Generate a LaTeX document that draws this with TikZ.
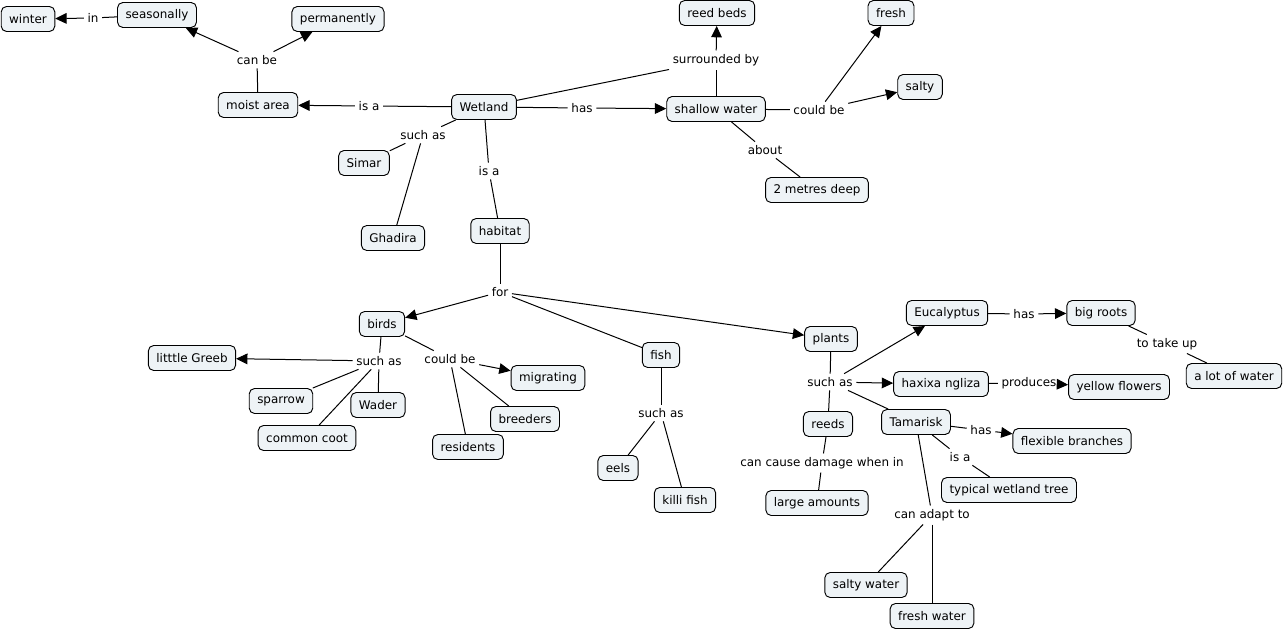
\documentclass[tikz,border=0pt]{standalone}
\usepackage{fontspec}
\setmainfont{DejaVu Sans}
\usetikzlibrary{arrows.meta}
\definecolor{cFill}{HTML}{EEF3F6}
\definecolor{cInk}{HTML}{000000}

\begin{document}
\begin{tikzpicture}[x=0.75pt, y=-0.75pt, >={Triangle[length=8.5pt, width=8pt]},
  font=\fontsize{8.95}{10}\selectfont,
  concept/.style={draw=cInk, fill=cFill, rounded corners=4pt, line width=0.7pt,
                  inner xsep=6pt, inner ysep=0pt, minimum height=18.75pt},
  phrase/.style={inner sep=2.6pt, text=cInk},
  link/.style={draw=cInk, line width=0.75pt}]
  \useasboundingbox (0,0) rectangle (1285,631);
  % concepts
  \node[concept] (winter)      at (28,19)    {winter};
  \node[concept] (seasonally)  at (157,15)   {seasonally};
  \node[concept] (permanently) at (338,19)   {permanently};
  \node[concept] (moist)       at (258,105)  {moist area};
  \node[concept] (wetland)     at (484,107)  {Wetland};
  \node[concept] (reedbeds)    at (717,13)   {reed beds};
  \node[concept] (fresh)       at (891,13)   {fresh};
  \node[concept] (salty)       at (920,87)   {salty};
  \node[concept] (shallow)     at (716,109)  {shallow water};
  \node[concept] (deep)        at (817,190)  {2 metres deep};
  \node[concept] (simar)       at (364,163)  {Simar};
  \node[concept] (ghadira)     at (393,238)  {Ghadira};
  \node[concept] (habitat)     at (500,231)  {habitat};
  \node[concept] (birds)       at (382,324)  {birds};
  \node[concept] (greeb)       at (192,358)  {litttle Greeb};
  \node[concept] (sparrow)     at (281,401)  {sparrow};
  \node[concept] (wader)       at (378,405)  {Wader};
  \node[concept] (coot)        at (307,438)  {common coot};
  \node[concept] (residents)   at (468,447)  {residents};
  \node[concept] (breeders)    at (525,419)  {breeders};
  \node[concept] (migrating)   at (548,378)  {migrating};
  \node[concept] (fish)        at (661,355)  {fish};
  \node[concept] (eels)        at (618,468)  {eels};
  \node[concept] (killi)       at (685,500)  {killi fish};
  \node[concept] (plants)      at (831,339)  {plants};
  \node[concept] (eucalyptus)  at (947,313)  {Eucalyptus};
  \node[concept] (bigroots)    at (1101,313) {big roots};
  \node[concept] (lotwater)    at (1234,376) {a lot of water};
  \node[concept] (haxixa)      at (941,384)  {haxixa ngliza};
  \node[concept] (yellow)      at (1119,387) {yellow flowers};
  \node[concept] (reeds)       at (828,424)  {reeds};
  \node[concept] (tamarisk)    at (916,422)  {Tamarisk};
  \node[concept] (branches)    at (1072,441) {flexible branches};
  \node[concept] (typical)     at (1009,490) {typical wetland tree};
  \node[concept] (large)       at (817,503)  {large amounts};
  \node[concept] (saltywater)  at (866,585)  {salty water};
  \node[concept] (freshwater)  at (932,616)  {fresh water};
  % linking phrases
  \node[phrase] (pIn)        at (93,18)    {in};
  \node[phrase] (pCanBe)     at (257,60)   {can be};
  \node[phrase] (pIsMoist)   at (369,106)  {is a};
  \node[phrase] (pWetSuch)   at (423,135)  {such as};
  \node[phrase] (pIsHab)     at (489,171)  {is a};
  \node[phrase] (pHas)       at (582,108)  {has};
  \node[phrase] (pSurr)      at (716,60)   {surrounded by};
  \node[phrase] (pCould)     at (819,110)  {could be};
  \node[phrase] (pAbout)     at (765,150)  {about};
  \node[phrase] (pFor)       at (500,292)  {for};
  \node[phrase] (pBirdSuch)  at (379,361)  {such as};
  \node[phrase] (pBirdCould) at (450,359)  {could be};
  \node[phrase] (pFishSuch)  at (661,413)  {such as};
  \node[phrase] (pPlantSuch) at (830,382)  {such as};
  \node[phrase] (pEucHas)    at (1024,314) {has};
  \node[phrase] (pTake)      at (1167,344) {to take up};
  \node[phrase] (pProd)      at (1029,383) {produces};
  \node[phrase] (pTamHas)    at (981,430)  {has};
  \node[phrase] (pTamIs)     at (960,457)  {is a};
  \node[phrase] (pDamage)    at (822,463)  {can cause damage when in};
  \node[phrase] (pAdapt)     at (932,515)  {can adapt to};
  % plain connectors
  \foreach \a/\b in {seasonally/pIn, moist/pCanBe, wetland/pIsMoist, wetland/pWetSuch,
      pWetSuch/simar, pWetSuch/ghadira, wetland/pIsHab, pIsHab/habitat, wetland/pHas,
      wetland/pSurr, shallow/pSurr, shallow/pCould, shallow/pAbout, pAbout/deep,
      habitat/pFor, pFor/fish, birds/pBirdSuch, pBirdSuch/sparrow, pBirdSuch/wader,
      pBirdSuch/coot, birds/pBirdCould, pBirdCould/breeders, pBirdCould/residents,
      fish/pFishSuch, pFishSuch/eels, pFishSuch/killi, plants/pPlantSuch,
      pPlantSuch/tamarisk, pPlantSuch/reeds, eucalyptus/pEucHas, bigroots/pTake,
      pTake/lotwater, haxixa/pProd, tamarisk/pTamHas, tamarisk/pTamIs, pTamIs/typical,
      reeds/pDamage, pDamage/large, tamarisk/pAdapt, pAdapt/saltywater, pAdapt/freshwater}
    \draw[link] (\a) -- (\b);
  % arrows
  \foreach \a/\b in {pIn/winter, pCanBe/seasonally, pCanBe/permanently, pIsMoist/moist,
      pHas/shallow, pSurr/reedbeds, pCould/fresh, pCould/salty, pFor/birds, pFor/plants,
      pBirdSuch/greeb, pBirdCould/migrating, pPlantSuch/eucalyptus, pPlantSuch/haxixa,
      pEucHas/bigroots, pProd/yellow, pTamHas/branches}
    \draw[link, ->] (\a) -- (\b);
\end{tikzpicture}
\end{document}
